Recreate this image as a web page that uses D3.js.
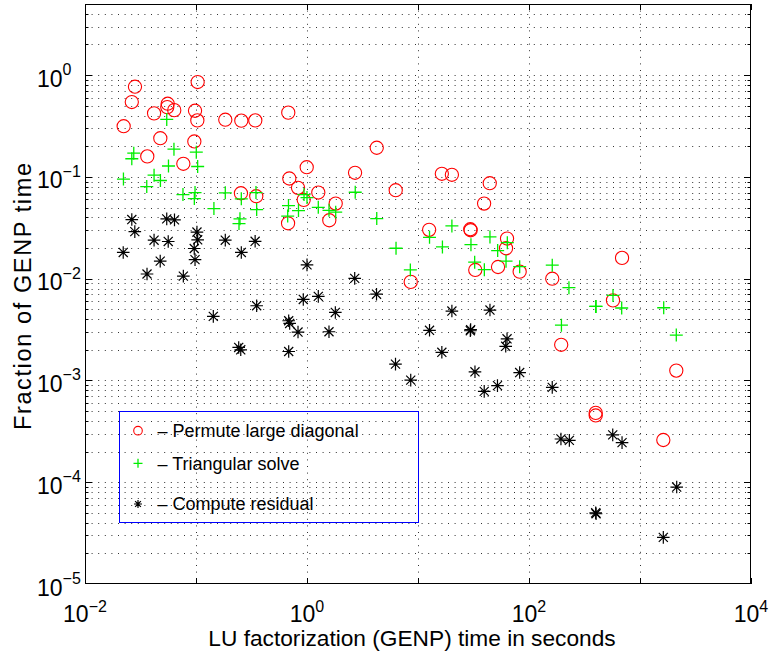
<!DOCTYPE html>
<html>
<head>
<meta charset="utf-8">
<script src="https://cdn.jsdelivr.net/npm/d3@7"></script>
<style>
  html, body { margin: 0; padding: 0; background: #fff; }
  svg { display: block; font-family: "Liberation Sans", Arial, Helvetica, sans-serif; }
</style>
</head>
<body>
<svg id="chart" width="771" height="654"></svg>
<script>
// ---- Data ----
const seriesNames = ["Permute large diagonal", "Triangular solve", "Compute residual"];

const permuteX = [0.0282, 0.1035, 0.0264, 0.0556, 0.0551, 0.0637, 0.0419, 0.098, 0.1028, 0.0223,
  0.1836, 0.256, 0.342, 0.678, 0.0477, 0.0966, 0.0364, 0.0769, 0.693, 0.994,
  0.830, 0.254, 0.349, 0.934, 0.675, 4.25, 2.71, 1.264, 1.814, 1.588,
  6.30, 16.4, 20.2, 44.3, 39.4, 12.6, 29.6, 29.8, 63.4, 62.1,
  32.8, 52.6, 82.4, 8.6, 162, 689, 571, 195, 2123, 399, 399, 1622];
const permuteY = [0.770, 0.855, 0.544, 0.524, 0.485, 0.453, 0.421, 0.447, 0.359, 0.315,
  0.365, 0.357, 0.359, 0.428, 0.240, 0.223, 0.159, 0.1346, 0.0965, 0.1246,
  0.0781, 0.0691, 0.0646, 0.0595, 0.0350, 0.1934, 0.1098, 0.0702, 0.0547, 0.0375,
  0.0740, 0.1073, 0.1049, 0.0867, 0.0547, 0.0302, 0.0306, 0.0299, 0.0248, 0.0199,
  0.01218, 0.01303, 0.01172, 0.0093, 0.0100, 0.0160, 0.00612, 0.00224, 0.00125, 0.00048, 0.000453, 0.000260];

const triX = [0.0545, 0.0275, 0.0264, 0.0633, 0.1006, 0.0565, 0.1035, 0.0222, 0.0419, 0.0478,
  0.036, 0.0763, 0.098, 0.0966, 0.145, 0.1836, 0.256, 0.347, 0.352, 0.249,
  0.244, 0.681, 0.670, 0.838, 0.940, 1.0, 1.264, 1.578, 1.814, 2.72,
  4.25, 6.34, 8.53, 12.7, 20.2, 16.6, 30.0, 44.5, 32.4, 39.6,
  52.2, 63.8, 62.1, 82.4, 162, 229, 399, 402, 571, 684, 1635, 196, 2123];
const triY = [0.367, 0.171, 0.1508, 0.1874, 0.175, 0.128, 0.1265, 0.0953, 0.104, 0.0922,
  0.0804, 0.0671, 0.0702, 0.0613, 0.0489, 0.0697, 0.0609, 0.0702, 0.0478, 0.0387,
  0.0348, 0.0523, 0.0412, 0.0467, 0.0671, 0.0627, 0.0503, 0.047, 0.045, 0.0707,
  0.039, 0.0199, 0.0122, 0.0255, 0.033, 0.0205, 0.0216, 0.0257, 0.01454, 0.01227,
  0.01887, 0.0226, 0.01487, 0.01312, 0.01358, 0.00815, 0.00534, 0.00534, 0.00685, 0.00515, 0.00518, 0.00349, 0.00279];

const residX = [0.0264, 0.0545, 0.064, 0.0281, 0.0419, 0.0562, 0.102, 0.1035, 0.1836, 0.341,
  0.0221, 0.0964, 0.256, 0.0476, 0.098, 0.0362, 0.0769, 1.0, 2.69, 0.926,
  1.264, 4.23, 0.352, 0.1432, 0.684, 0.698, 1.80, 0.830, 1.578, 0.2425,
  0.253, 0.684, 6.27, 20.2, 44.5, 12.7, 29.8, 29.6, 63.4, 61.7,
  16.4, 8.6, 32.6, 82.4, 39.5, 52.0, 162, 194, 231, 568,
  689, 2141, 399, 402, 1622];
const residY = [0.0381, 0.0387, 0.0378, 0.029, 0.0239, 0.0232, 0.0287, 0.0241, 0.0239, 0.0233,
  0.0181, 0.0198, 0.0181, 0.01487, 0.01538, 0.01112, 0.01059, 0.01367, 0.01007, 0.00625,
  0.0067, 0.00704, 0.00542, 0.00426, 0.00386, 0.00363, 0.00466, 0.00299, 0.00301, 0.00211,
  0.0020, 0.001925, 0.001446, 0.00481, 0.00492, 0.00311, 0.00316, 0.00308, 0.002566, 0.002166,
  0.00189, 0.001007, 0.001216, 0.001196, 0.000781, 0.000889, 0.000855, 0.000266, 0.000258, 0.000292,
  0.000245, 0.0000897, 0.0000501, 0.000049, 0.0000287];

const xTickExps = [-2, -1, 0, 1, 2, 3, 4];
const xLabelExps = ["\u22122", "0", "2", "4"];
const yTickExps = [-5, -4, -3, -2, -1, 0];
const yLabelExps = ["\u22125", "\u22124", "\u22123", "\u22122", "\u22121", "0"];
const xTitle = "LU factorization (GENP) time in seconds";
const yTitle = "Fraction of GENP time";

// ---- Layout ----
const svg = d3.select("#chart");
const L = 85, R = 751, T = 4, B = 584;
const x = d3.scaleLog().domain([1e-2, 1e4]).range([L, R]);
const y = d3.scaleLog().domain([1e-5, 5]).range([B, T]);

svg.append("rect").attr("width", 771).attr("height", 654).attr("fill", "#fff");

// Grid
const grid = svg.append("g").attr("stroke", "#333").attr("stroke-width", 1)
  .attr("stroke-dasharray", "1,5.6").attr("fill", "none");
xTickExps.filter(e => e > -2 && e < 4).forEach(e => {
  const px = Math.round(x(Math.pow(10, e))) + 0.5;
  grid.append("line").attr("x1", px).attr("x2", px).attr("y1", T).attr("y2", B);
});
const yGridVals = [];
for (let e = -5; e <= 0; e++) {
  for (let k = 1; k <= 9; k++) {
    const v = k * Math.pow(10, e);
    if (v > 1e-5 && v < 5) yGridVals.push(v);
  }
}
yGridVals.forEach(v => {
  const py = Math.round(y(v)) + 0.5;
  grid.append("line").attr("x1", L).attr("x2", R).attr("y1", py).attr("y2", py);
});

// Axis box and ticks
const ax = svg.append("g").attr("stroke", "#000").attr("stroke-width", 1).attr("fill", "none");
ax.append("rect").attr("x", L + 0.5).attr("y", T + 0.5).attr("width", R - L - 1).attr("height", B - T - 1);
xTickExps.forEach(e => {
  const px = Math.round(x(Math.pow(10, e))) + 0.5;
  ax.append("line").attr("x1", px).attr("x2", px).attr("y1", B).attr("y2", B - 6);
  ax.append("line").attr("x1", px).attr("x2", px).attr("y1", T).attr("y2", T + 6);
});
yGridVals.concat([1]).forEach(v => {
  const py = Math.round(y(v)) + 0.5;
  const major = Math.abs(Math.log10(v) - Math.round(Math.log10(v))) < 1e-9;
  const len = major ? 7 : 3.5;
  ax.append("line").attr("x1", L).attr("x2", L + len).attr("y1", py).attr("y2", py);
  ax.append("line").attr("x1", R).attr("x2", R - len).attr("y1", py).attr("y2", py);
});

// Tick labels
const xl = svg.append("g").attr("fill", "#000");
xLabelExps.forEach((s, i) => {
  const e = [-2, 0, 2, 4][i];
  const t = xl.append("text").attr("x", x(Math.pow(10, e))).attr("y", 622)
    .attr("text-anchor", "middle").attr("font-size", 23).text("10");
  t.append("tspan").attr("dy", -10).attr("font-size", 16).text(s);
});
yTickExps.forEach((e, i) => {
  const py = y(Math.pow(10, e));
  const t = svg.append("text").attr("x", 37).attr("y", py + 11.5)
    .attr("font-size", 23).attr("fill", "#000").text("10");
  t.append("tspan").attr("dy", -11.5).attr("font-size", 16).text(yLabelExps[i]);
});

// Axis titles
svg.append("text").attr("x", 412).attr("y", 646).attr("text-anchor", "middle")
  .attr("font-size", 22.7).attr("fill", "#000").text(xTitle);
svg.append("text").attr("transform", "translate(31,296.5) rotate(-90)")
  .attr("text-anchor", "middle").attr("font-size", 23.5).attr("fill", "#000")
  .attr("textLength", 267).attr("lengthAdjust", "spacing").text(yTitle);

// Marker helpers
function circleMark(g, cx, cy, r) {
  g.append("circle").attr("cx", cx).attr("cy", cy).attr("r", r)
    .attr("fill", "none").attr("stroke", "#ff0000").attr("stroke-width", 1.1);
}
function plusMark(g, cx, cy, h) {
  g.append("path").attr("d", `M${cx - h},${cy}H${cx + h}M${cx},${cy - h}V${cy + h}`)
    .attr("stroke", "#00ee00").attr("stroke-width", 1.3).attr("fill", "none");
}
function starMark(g, cx, cy, h) {
  const d = h * 0.72;
  g.append("path").attr("d",
    `M${cx - h},${cy}H${cx + h}M${cx},${cy - h}V${cy + h}` +
    `M${cx - d},${cy - d}L${cx + d},${cy + d}M${cx - d},${cy + d}L${cx + d},${cy - d}`)
    .attr("stroke", "#000").attr("stroke-width", 1.2).attr("fill", "none");
}

// Series
const gR = svg.append("g");
permuteX.forEach((v, i) => circleMark(gR, x(v), y(permuteY[i]), 6.6));
const gT = svg.append("g");
triX.forEach((v, i) => plusMark(gT, x(v), y(triY[i]), 6.5));
const gS = svg.append("g");
residX.forEach((v, i) => starMark(gS, x(residX[i]), y(residY[i]), 6.3));

// Legend (transparent box, grid shows through as in the reference)
const lg = svg.append("g");
lg.append("rect").attr("x", 119.5).attr("y", 411.5).attr("width", 299).attr("height", 111)
  .attr("fill", "none").attr("stroke", "#0000ff").attr("stroke-width", 1);
const rowsMarkY = [430.7, 463.3, 504];
const rowsTextY = [436.7, 470, 510];
circleMark(lg, 138, rowsMarkY[0], 4.3);
plusMark(lg, 138, rowsMarkY[1], 4.5);
starMark(lg, 138, rowsMarkY[2], 4);
seriesNames.forEach((n, i) => {
  lg.append("text").attr("x", 157.5).attr("y", rowsTextY[i]).attr("font-size", 18)
    .attr("fill", "#000").text("\u2013 " + n);
});
</script>
</body>
</html>
